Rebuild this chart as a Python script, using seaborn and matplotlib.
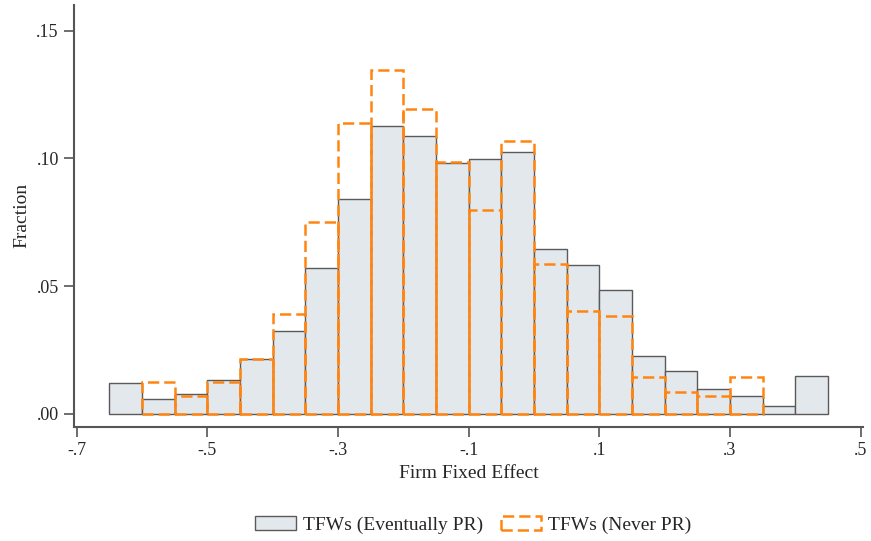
import numpy as np
import pandas as pd
import seaborn as sns
import matplotlib.pyplot as plt

# bin left edges (width .05)
bins_pr = [-0.65, -0.60, -0.55, -0.50, -0.45, -0.40, -0.35, -0.30, -0.25, -0.20, -0.15,
           -0.10, -0.05, 0.00, 0.05, 0.10, 0.15, 0.20, 0.25, 0.30, 0.35, 0.40]
frac_pr = [0.0121, 0.0059, 0.0077, 0.0133, 0.0215, 0.0325, 0.0569, 0.0842, 0.1128, 0.1086, 0.0982,
           0.0997, 0.1025, 0.0645, 0.0584, 0.0483, 0.0227, 0.0166, 0.0097, 0.0068, 0.0029, 0.0146]

bins_never = [-0.60, -0.55, -0.50, -0.45, -0.40, -0.35, -0.30, -0.25, -0.20, -0.15,
              -0.10, -0.05, 0.00, 0.05, 0.10, 0.15, 0.20, 0.25, 0.30]
frac_never = [0.0123, 0.0068, 0.0123, 0.0215, 0.0389, 0.0749, 0.1140, 0.1347, 0.1195, 0.0986,
              0.0799, 0.1067, 0.0588, 0.0401, 0.0384, 0.0142, 0.0086, 0.0071, 0.0142]

width = 0.05
x_ticks = [-0.7, -0.5, -0.3, -0.1, 0.1, 0.3, 0.5]
x_labels = ['-.7', '-.5', '-.3', '-.1', '.1', '.3', '.5']
y_ticks = [0, 0.05, 0.10, 0.15]
y_labels = ['.00', '.05', '.10', '.15']

pr = pd.DataFrame({'x': np.array(bins_pr) + width / 2, 'w': frac_pr})
never = pd.DataFrame({'x': np.array(bins_never) + width / 2, 'w': frac_never})
edges_pr = [round(b, 3) for b in bins_pr] + [round(bins_pr[-1] + width, 3)]
edges_never = [round(b, 3) for b in bins_never] + [round(bins_never[-1] + width, 3)]

sns.set_style('ticks')
plt.rcParams['font.family'] = ['Liberation Serif', 'DejaVu Serif']

fig = plt.figure(figsize=(8.71, 5.41), dpi=100)
ax = fig.add_axes([0.085, 0.2113, 0.9058, 0.7795])

sns.histplot(data=pr, x='x', weights='w', bins=edges_pr, ax=ax,
             color='#e3e8ec', edgecolor='#5a5a5a', linewidth=1.0, alpha=1,
             label='TFWs (Eventually PR)')
sns.histplot(data=never, x='x', weights='w', bins=edges_never, ax=ax,
             fill=False, color='#ff8512', linewidth=1.8, linestyle=(0, (4.5, 2.0)),
             label='TFWs (Never PR)')

ax.set_xlim(-0.704, 0.5035)
ax.set_ylim(-0.0051, 0.1601)
ax.set_xticks(x_ticks)
ax.set_xticklabels(x_labels, fontsize=13)
ax.set_yticks(y_ticks)
ax.set_yticklabels(y_labels, fontsize=13)
ax.tick_params(direction='out', length=7, width=1.2, color='#555555', pad=4)
for s in ['top', 'right']:
    ax.spines[s].set_visible(False)
for s in ['left', 'bottom']:
    ax.spines[s].set_color('#555555')
    ax.spines[s].set_linewidth(1.5)

ax.set_xlabel('Firm Fixed Effect', fontsize=14, labelpad=4)
ax.set_ylabel('Fraction', fontsize=14, labelpad=4)

fig.legend(loc='center', bbox_to_anchor=(0.5436, 0.0296), ncol=2, frameon=False,
           fontsize=14, handlelength=2.1, handleheight=0.7, columnspacing=0.9,
           handletextpad=0.35)

fig.savefig('out.png', dpi=100)
